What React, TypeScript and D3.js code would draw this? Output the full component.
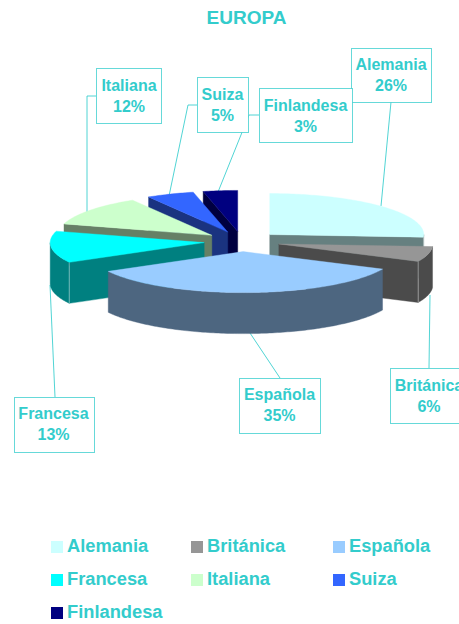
import React from "react";
import * as d3 from "d3";

const categories = ["Alemania", "Británica", "Española", "Francesa", "Italiana", "Suiza", "Finlandesa"];
const values = [26, 6, 35, 12.5, 11.9, 5, 3.6];
const percentLabels = ["26%", "6%", "35%", "13%", "12%", "5%", "3%"];
const topColors = ["#CCFFFF", "#969696", "#99CCFF", "#00FFFF", "#CCFFCC", "#3366FF", "#000080"];
const wallColors = ["#668080", "#4B4B4B", "#4D6680", "#008080", "#668066", "#1A3380", "#000040"];
const drawOrder = [6, 5, 4, 0, 3, 1, 2];

const TEAL = "#33CCCC";
const FONT = "'Liberation Sans', Arial, sans-serif";
const CX = 242, CY = 241.5, RX = 154, RY = 41, DEPTH = 41, EXPLODE = 0.247;

const calloutBoxes = [
  { x: 351, y: 48, w: 80, h: 54, tx: 391, by: 70 },
  { x: 390, y: 368, w: 80, h: 55, tx: 429, by: 391 },
  { x: 239, y: 378, w: 81, h: 55, tx: 279.5, by: 400 },
  { x: 14, y: 397, w: 80, h: 55, tx: 53.5, by: 419 },
  { x: 96, y: 68, w: 65, h: 55, tx: 129, by: 91 },
  { x: 197, y: 77, w: 51, h: 55, tx: 222.5, by: 100 },
  { x: 259, y: 88, w: 93, h: 54, tx: 305.5, by: 111 },
];
const leaders: [number, number][][] = [
  [[391, 102], [381, 206]],
  [[429, 368], [430, 295]],
  [[280, 378], [250, 333]],
  [[55, 397], [50, 285]],
  [[96, 96], [87, 96], [87, 212]],
  [[197, 105], [188, 105], [169, 196]],
  [[259, 115], [249, 115], [218, 192]],
];
const legendCols = [51, 191, 333];
const legendRows = [541, 574, 607];

const pieGen = d3.pie<number>().sort(null).startAngle(0).endAngle(2 * Math.PI);
const arcs = pieGen(values);
const pathLine = d3.line<[number, number]>();

function sampleAngles(a0: number, a1: number): number[] {
  const n = Math.max(2, Math.ceil(((a1 - a0) * 180) / Math.PI));
  return d3.range(n + 1).map((i) => a0 + ((a1 - a0) * i) / n);
}

function App() {
  const slices = drawOrder.map((idx) => {
    const a = arcs[idx];
    const mid = (a.startAngle + a.endAngle) / 2;
    const ox = CX + RX * EXPLODE * Math.sin(mid);
    const oy = CY - RY * EXPLODE * Math.cos(mid);
    const pt = (t: number, dz = 0): [number, number] => [
      ox + RX * Math.sin(t),
      oy - RY * Math.cos(t) + dz,
    ];
    const apex: [number, number] = [ox, oy];
    const apexLow: [number, number] = [ox, oy + DEPTH];
    const top = pathLine([apex, ...sampleAngles(a.startAngle, a.endAngle).map((t) => pt(t))]) + "Z";

    const walls: string[] = [];
    if (a.startAngle >= Math.PI) {
      walls.push(pathLine([apex, pt(a.startAngle), pt(a.startAngle, DEPTH), apexLow]) + "Z");
    }
    if (a.endAngle <= Math.PI) {
      walls.push(pathLine([apex, pt(a.endAngle), pt(a.endAngle, DEPTH), apexLow]) + "Z");
    }
    const r0 = Math.max(a.startAngle, Math.PI / 2);
    const r1 = Math.min(a.endAngle, (3 * Math.PI) / 2);
    if (r1 > r0) {
      const ts = sampleAngles(r0, r1);
      walls.push(
        pathLine([...ts.map((t) => pt(t)), ...ts.slice().reverse().map((t) => pt(t, DEPTH))]) + "Z"
      );
    }
    let edge: string | null = null;
    if (a.startAngle > Math.PI && a.startAngle < 1.5 * Math.PI) {
      edge = pathLine([pt(a.startAngle), pt(a.startAngle, DEPTH)]);
    } else if (a.endAngle > Math.PI / 2 && a.endAngle < Math.PI) {
      edge = pathLine([pt(a.endAngle), pt(a.endAngle, DEPTH)]);
    }
    return { idx, top, walls, edge: idx === 2 ? null : edge };
  });

  return (
    <svg
      width={459}
      height={624}
      viewBox="0 0 459 624"
      style={{ position: "absolute", left: 0, top: 0, background: "#fff" }}
      fontFamily={FONT}
      fontWeight="bold"
    >
      <text x={246.5} y={24} textAnchor="middle" fontSize={19} fill={TEAL}>EUROPA</text>

      {leaders.map((pts, i) => (
        <path key={i} d={pathLine(pts) as string} fill="none" stroke={TEAL} strokeWidth={1} strokeOpacity={0.85} />
      ))}

      {slices.map((s) => (
        <g key={s.idx}>
          {s.walls.map((d, j) => (
            <path key={j} d={d} fill={wallColors[s.idx]} stroke={wallColors[s.idx]} strokeWidth={0.4} />
          ))}
          {s.edge && <path d={s.edge} stroke="#ffffff" strokeOpacity={0.4} strokeWidth={1} fill="none" />}
          <path d={s.top} fill={topColors[s.idx]} stroke={topColors[s.idx]} strokeWidth={0.4} />
        </g>
      ))}

      {calloutBoxes.map((b, i) => (
        <g key={i}>
          <rect
            x={b.x + 0.5}
            y={b.y + 0.5}
            width={b.w}
            height={b.h}
            fill="#ffffff"
            stroke={TEAL}
            strokeOpacity={0.75}
            strokeWidth={1}
          />
          <text x={b.tx} y={b.by} textAnchor="middle" fontSize={16} fill={TEAL}>{categories[i]}</text>
          <text x={b.tx} y={b.by + 21} textAnchor="middle" fontSize={16} fill={TEAL}>{percentLabels[i]}</text>
        </g>
      ))}

      {categories.map((c, i) => {
        const x = legendCols[i % 3];
        const y = legendRows[Math.floor(i / 3)];
        return (
          <g key={c}>
            <rect x={x} y={y} width={12} height={12} fill={topColors[i]} />
            <text x={x + 16} y={y + 11} fontSize={18.3} fill={TEAL}>{c}</text>
          </g>
        );
      })}
    </svg>
  );
}

export default App;
